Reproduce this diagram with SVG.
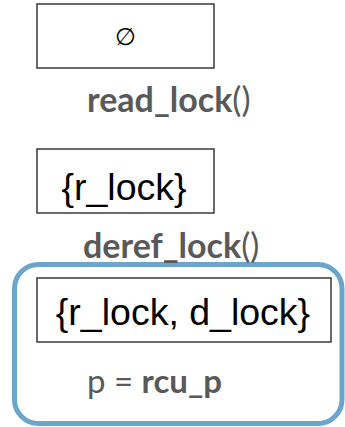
<svg xmlns="http://www.w3.org/2000/svg" width="345" height="427" viewBox="0 0 345 427">
  <style>
    .box { fill: #ffffff; stroke: #2b2b2b; stroke-width: 1.4; }
    .set { font-family: "Liberation Sans", Arial, sans-serif; fill: #000000; text-anchor: middle; font-size: 37.5px; }
    .op { font-family: Lato, "Noto Sans", sans-serif; fill: #595959; font-size: 34px; }
    .b { font-weight: bold; }
    .scope { fill: none; stroke: #6aa6cc; stroke-width: 5; }
  </style>
  <rect width="345" height="427" fill="#ffffff"/>

  <!-- critical-section scope -->
  <g id="scope">
    <rect class="scope" x="14.5" y="264.5" width="327.5" height="159" rx="24" ry="24"/>
  </g>

  <g id="state-empty">
    <rect class="box" x="37" y="4" width="177" height="64"/>
    <text class="set" x="125.5" y="45" style="font-size:24px">∅</text>
  </g>

  <g id="op-read-lock">
    <text class="op" x="87" y="112"><tspan class="b">read_lock</tspan>()</text>
  </g>

  <g id="state-r-lock">
    <rect class="box" x="37" y="149" width="177" height="64"/>
    <text class="set" x="124" y="200">{r_lock}</text>
  </g>

  <g id="op-deref-lock">
    <text class="op" x="83" y="258"><tspan class="b">deref_lock</tspan>()</text>
  </g>

  <g id="state-r-d-lock">
    <rect class="box" x="37" y="278" width="294" height="64"/>
    <text class="set" x="183" y="325">{r_lock, d_lock}</text>
  </g>

  <g id="assign">
    <text class="op" x="87" y="393" style="font-size:33px">p = <tspan class="b">rcu_p</tspan></text>
  </g>

  <g id="connectors"/>
</svg>
